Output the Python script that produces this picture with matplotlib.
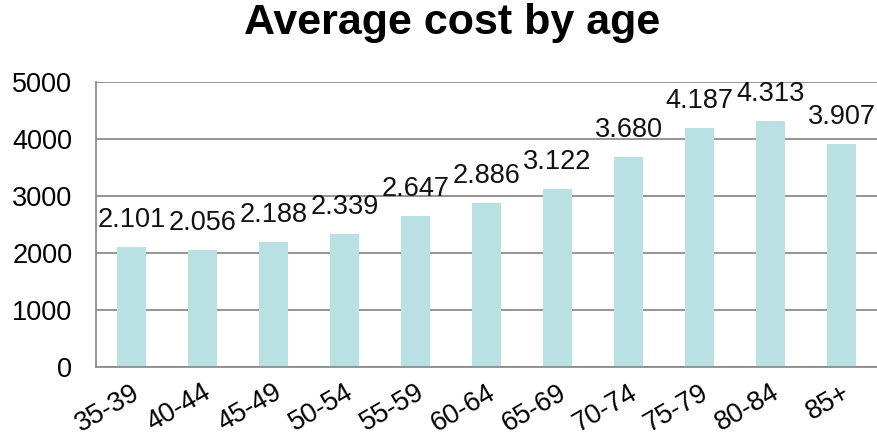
import matplotlib
matplotlib.use("Agg")
import matplotlib.pyplot as plt

plt.rcParams['font.family'] = ['Liberation Sans', 'DejaVu Sans']

# age groups and average cost
ages = ['35-39', '40-44', '45-49', '50-54', '55-59', '60-64',
        '65-69', '70-74', '75-79', '80-84', '85+']
costs = [2101, 2056, 2188, 2339, 2647, 2886, 3122, 3680, 4187, 4313, 3907]
value_labels = ['2.101', '2.056', '2.188', '2.339', '2.647', '2.886',
                '3.122', '3.680', '4.187', '4.313', '3.907']
yticks = [0, 1000, 2000, 3000, 4000, 5000]

fig = plt.figure(figsize=(8.77, 4.36), dpi=100)
ax = fig.add_axes([0.1095, 0.158, 0.8905, 0.654])

x = list(range(len(ages)))
bars = ax.bar(x, costs, width=0.4, color='#b9e0e3', zorder=2)

for b, lab in zip(bars, value_labels):
    ax.annotate(lab, (b.get_x() + b.get_width() / 2, b.get_height()),
                xytext=(0, 10), textcoords='offset points',
                ha='center', va='bottom', fontsize=19.5, color='#111111')

ax.set_xlim(-0.5, len(ages) - 0.5)
ax.set_ylim(0, 5000)
ax.set_yticks(yticks)
ax.set_yticklabels([str(v) for v in yticks], fontsize=19.5)
ax.set_xticks(x)
ax.set_xticklabels(ages, fontsize=19.5, rotation=30, ha='right',
                   rotation_mode='anchor')
ax.tick_params(axis='both', length=0)
ax.tick_params(axis='y', pad=17)
ax.tick_params(axis='x', pad=9)

ax.grid(axis='y', color='#8c8c8c', linewidth=1.3, zorder=0)
for s in ['top', 'right']:
    ax.spines[s].set_visible(False)
for s in ['left', 'bottom']:
    ax.spines[s].set_color('#8c8c8c')
    ax.spines[s].set_linewidth(1.3)

fig.text(0.515, 0.922, 'Average cost by age', ha='center', va='baseline',
         fontsize=31, fontweight='bold')

fig.savefig('out.png', dpi=100)
